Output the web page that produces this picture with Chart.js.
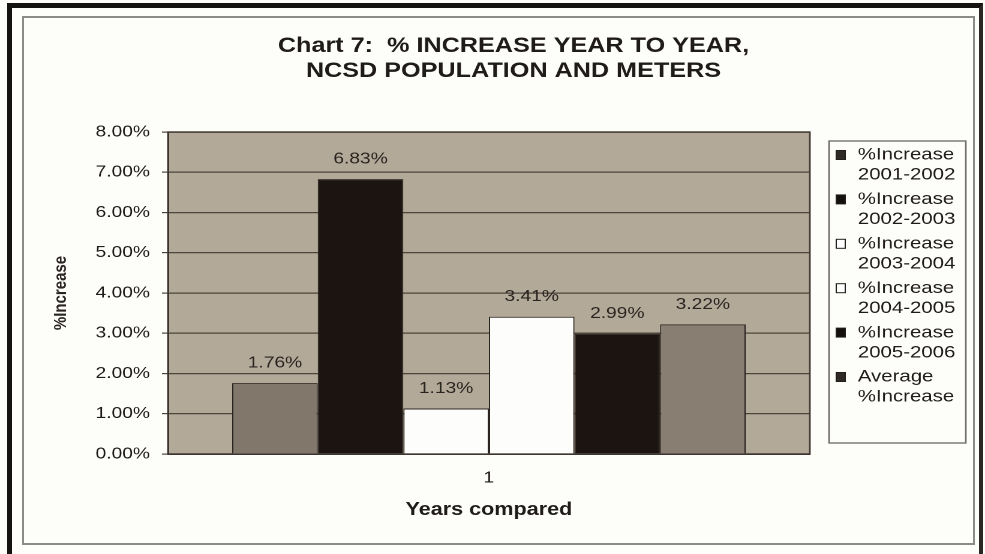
<!DOCTYPE html>
<html>
<head>
<meta charset="utf-8">
<title>Chart 7</title>
<script src="https://cdn.jsdelivr.net/npm/chart.js@4.4.1/dist/chart.umd.min.js"></script>
<style>
  html, body { margin: 0; padding: 0; background: #fdfdf9; overflow: hidden; }
  body { width: 985px; height: 554px; position: relative; }
  /* scanned page frame */
  #outer { position: absolute; left: 7px; top: 3px; width: 967px; height: 600px;
           border-top: 5px solid #151311; border-left: 5px solid #151311; border-right: 4px solid #2a2725; }
  #inner { position: absolute; left: 22px; top: 16px; width: 949px; height: 525px; border: 2px solid #8d8b88; }
  /* the scan is stretched sideways, so the chart is drawn narrow and widened */
  #wrap { position: absolute; left: 0; top: 0; width: 821px; height: 554px;
          transform: scaleX(1.19976); transform-origin: 0 0; }
</style>
</head>
<body>
<div id="outer"></div>
<div id="inner"></div>
<div id="wrap"><canvas id="chart7"></canvas></div>
<script>
"use strict";

/*
    Data
*/

const categories = ["1"];
const series_names = [
    "%Increase 2001-2002",
    "%Increase 2002-2003",
    "%Increase 2003-2004",
    "%Increase 2004-2005",
    "%Increase 2005-2006",
    "Average %Increase"
];
const series_values = [1.76, 6.83, 1.13, 3.41, 2.99, 3.22];
const title_lines = ["Chart 7:  % INCREASE YEAR TO YEAR,", "NCSD POPULATION AND METERS"];
const y_title = "%Increase";
const x_title = "Years compared";
const y_min = 0;
const y_max = 8;
const y_step = 1;

const bar_colours = ["#81776b", "#1b1411", "#fdfdfb", "#fdfdfb", "#1b1411", "#887e71"];
const marker_colours = ["#2e2925", "#141010", "#ffffff", "#ffffff", "#141010", "#2e2925"];
const text_colour = "#1f1b19";
const font_family = "'Liberation Sans', Arial, Helvetica, sans-serif";

Chart.defaults.font.family = font_family;
Chart.defaults.color = text_colour;

/*
    Plugins: plot background, value labels, title, legend box
*/

const plot_frame_plugin = {
    id: "plot_frame",
    beforeDraw(chart) {
        const a = chart.chartArea;
        const ctx = chart.ctx;
        ctx.save();
        ctx.fillStyle = "#b3a998";
        ctx.fillRect(a.left, a.top, a.right - a.left, a.bottom - a.top);
        ctx.restore();
    },
    beforeDatasetsDraw(chart) {
        const a = chart.chartArea;
        const ctx = chart.ctx;
        ctx.save();
        ctx.strokeStyle = "#3f3731";
        ctx.lineWidth = 1.4;
        ctx.strokeRect(a.left, a.top, a.right - a.left, a.bottom - a.top);
        ctx.restore();
    }
};

const value_labels_plugin = {
    id: "value_labels",
    afterDatasetsDraw(chart) {
        const ctx = chart.ctx;
        ctx.save();
        ctx.font = "16px " + font_family;
        ctx.fillStyle = "#2a2420";
        ctx.textAlign = "center";
        ctx.textBaseline = "middle";
        chart.data.datasets.forEach((ds, i) => {
            chart.getDatasetMeta(i).data.forEach((bar, j) => {
                ctx.fillText(ds.data[j].toFixed(2) + "%", bar.x, bar.y - 20);
            });
        });
        ctx.restore();
    }
};

const title_plugin = {
    id: "chart_title",
    afterDraw(chart) {
        const ctx = chart.ctx;
        ctx.save();
        ctx.font = "bold 21px " + font_family;
        ctx.fillStyle = text_colour;
        ctx.textAlign = "center";
        ctx.textBaseline = "middle";
        title_lines.forEach((line, i) => ctx.fillText(line, 428, 46 + i * 25));
        ctx.restore();
    }
};

const legend_box_plugin = {
    id: "legend_box",
    afterDraw(chart) {
        const ctx = chart.ctx;
        const box = {left: 691, top: 141, right: 805, bottom: 443};
        ctx.save();
        ctx.strokeStyle = "#6b6865";
        ctx.lineWidth = 1.3;
        ctx.strokeRect(box.left, box.top, box.right - box.left, box.bottom - box.top);

        ctx.font = "17px " + font_family;
        ctx.fillStyle = text_colour;
        ctx.textAlign = "left";
        ctx.textBaseline = "middle";
        chart.data.datasets.forEach((ds, i) => {
            const y = 155 + i * 44.4;
            const cut = ds.label.indexOf(" ");
            const lines = [ds.label.slice(0, cut), ds.label.slice(cut + 1)];

            ctx.fillStyle = marker_colours[i];
            ctx.fillRect(697, y - 4.5, 7.5, 9);
            ctx.strokeStyle = "#221e1b";
            ctx.lineWidth = 1;
            ctx.strokeRect(697, y - 4.5, 7.5, 9);

            ctx.fillStyle = text_colour;
            ctx.fillText(lines[0], 715, y);
            ctx.fillText(lines[1], 715, y + 20);
        });
        ctx.restore();
    }
};

/*
    Chart
*/

function create_datasets() {
    return series_names.map((name, i) => ({
        label: name,
        data: [series_values[i]],
        backgroundColor: bar_colours[i],
        borderColor: "#2b2521",
        borderWidth: 1,
        categoryPercentage: 0.8,
        barPercentage: 1.0
    }));
}

const ctx = document.getElementById("chart7").getContext("2d");
window.chart7 = new Chart(ctx, {
    type: "bar",
    data: {
        labels: categories,
        datasets: create_datasets()
    },
    plugins: [plot_frame_plugin, value_labels_plugin, title_plugin, legend_box_plugin],
    options: {
        responsive: true,
        maintainAspectRatio: false,
        animation: false,
        devicePixelRatio: 2,
        layout: { padding: {left: 20, right: 146, top: 132, bottom: 0} },
        plugins: {
            legend: { display: false },
            title: { display: false },
            tooltip: { enabled: false }
        },
        scales: {
            x: {
                grid: { display: false, drawTicks: false },
                border: { display: true, color: "#3a332d", width: 1.5 },
                ticks: { font: {size: 16}, color: text_colour, padding: 14.4 },
                title: {
                    display: true,
                    text: x_title,
                    font: {size: 18, weight: "bold"},
                    color: text_colour,
                    padding: {top: 0, bottom: 33}
                },
                afterFit(scale) { scale.height = 100; }
            },
            y: {
                min: y_min,
                max: y_max,
                grid: { color: "#4d443c", lineWidth: 1.2, tickLength: 5, drawTicks: true },
                border: { display: true, color: "#3a332d", width: 1.5 },
                ticks: {
                    stepSize: y_step,
                    font: {size: 16},
                    color: text_colour,
                    padding: 10,
                    callback: v => v.toFixed(2) + "%"
                },
                title: {
                    display: true,
                    text: y_title,
                    font: {size: 15, weight: "bold"},
                    color: "#2a2522",
                    padding: {top: 22, bottom: 0}
                },
                afterFit(scale) { scale.width = 120; }
            }
        }
    }
});
</script>
</body>
</html>
